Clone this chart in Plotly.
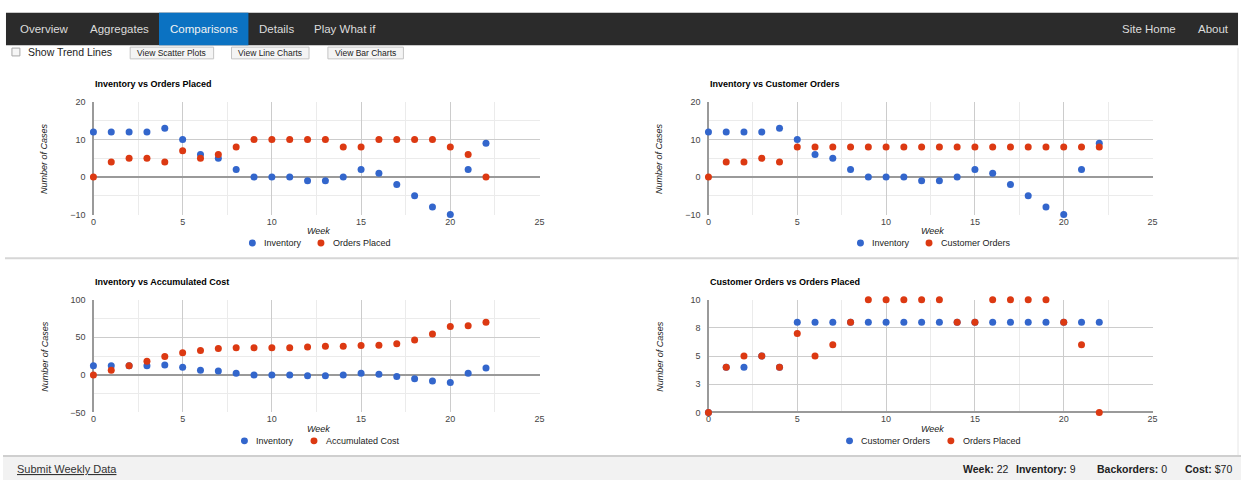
import plotly.graph_objects as go

# ---------------- data ----------------
weeks = list(range(23))
inventory = [12, 12, 12, 12, 13, 10, 6, 5, 2, 0, 0, 0, -1, -1, 0, 2, 1, -2, -5, -8, -10, 2, 9]
orders_placed = [0, 4, 5, 5, 4, 7, 5, 6, 8, 10, 10, 10, 10, 10, 8, 8, 10, 10, 10, 10, 8, 6, 0]
customer_orders = [0, 4, 4, 5, 4, 8, 8, 8, 8, 8, 8, 8, 8, 8, 8, 8, 8, 8, 8, 8, 8, 8, 8]
accumulated_cost = [0, 6, 12, 18, 24.5, 29.5, 32.5, 35, 36, 36, 36, 36, 37, 38, 38, 39, 39.5,
                    41.5, 46.5, 54.5, 64.5, 65.5, 70]

nav_left = ["Overview", "Aggregates", "Comparisons", "Details", "Play What if"]
nav_right = ["Site Home", "About"]
button_labels = ["View Scatter Plots", "View Line Charts", "View Bar Charts"]
chart_titles = ["Inventory vs Orders Placed", "Inventory vs Customer Orders",
                "Inventory vs Accumulated Cost", "Customer Orders vs Orders Placed"]
cd_ticks = [0, 2.5, 5, 7.5, 10]
cd_ticktext = ["0", "3", "5", "8", "10"]
status_labels = ["Week:", "Inventory:", "Backorders:", "Cost:"]
status_values = ["22", "9", "0", "$70"]

# ---------------- layout helpers ----------------
W, H = 1246, 485
FONT = "Arial, 'Liberation Sans', Helvetica, sans-serif"
BLUE = "#3366cc"
RED = "#dc3912"


def px(x):
    return x / W


def py(y):
    return 1 - y / H


panels = [
    dict(title=chart_titles[0], xd=(91, 540), yd=(99, 214),
         series=[("Inventory", inventory, BLUE), ("Orders Placed", orders_placed, RED)],
         yrange=(-10, 20), dtick=10, minor=5, tickvals=None, ticktext=None,
         ytitle_x=42, legend_x=(251, 320)),
    dict(title=chart_titles[1], xd=(710, 1157), yd=(99, 214),
         series=[("Inventory", inventory, BLUE), ("Customer Orders", customer_orders, RED)],
         yrange=(-10, 20), dtick=10, minor=5, tickvals=None, ticktext=None,
         ytitle_x=661, legend_x=(863, 932)),
    dict(title=chart_titles[2], xd=(91, 540), yd=(301, 416),
         series=[("Inventory", inventory, BLUE), ("Accumulated Cost", accumulated_cost, RED)],
         yrange=(-50, 100), dtick=50, minor=25, tickvals=None, ticktext=None,
         ytitle_x=42, legend_x=(243, 313)),
    dict(title=chart_titles[3], xd=(710, 1157), yd=(301, 416),
         series=[("Customer Orders", customer_orders, BLUE), ("Orders Placed", orders_placed, RED)],
         yrange=(0, 10), dtick=None, minor=None, tickvals=cd_ticks, ticktext=cd_ticktext,
         ytitle_x=661, legend_x=(852, 954)),
]

fig = go.Figure()
shapes = []
annotations = []


def text(x, y, s, size=9, color="#222", xanchor="left", yanchor="middle", angle=0):
    annotations.append(dict(x=px(x), y=py(y), xref="paper", yref="paper", text=s,
                            showarrow=False, xanchor=xanchor, yanchor=yanchor,
                            textangle=angle, font=dict(family=FONT, size=size, color=color)))


def rect(x0, y0, x1, y1, fill, line=None, lw=0):
    shapes.append(dict(type="rect", xref="paper", yref="paper", x0=px(x0), x1=px(x1),
                       y0=py(y1), y1=py(y0), fillcolor=fill,
                       line=dict(color=line or fill, width=lw), layer="below"))


def hline(x0, x1, y, color, w=1):
    shapes.append(dict(type="line", xref="paper", yref="paper", x0=px(x0), x1=px(x1),
                       y0=py(y), y1=py(y), line=dict(color=color, width=w)))


# ---------------- page chrome ----------------
rect(3, 8, 1243, 41, "#2b2b2b")
rect(157, 8, 247, 41, "#0b72c2")
nav_centers = [41.5, 117, 202, 275, 344]
for lab, cx in zip(nav_left, nav_centers):
    text(cx, 25, lab, size=11.5, color="#f2f2f2" if lab == "Comparisons" else "#dcdcdc",
         xanchor="center")
for lab, cx in zip(nav_right, [1153.5, 1218]):
    text(cx, 25, lab, size=11.5, color="#dcdcdc", xanchor="center")

# checkbox + buttons
rect(9, 44, 17, 52, "#f6f6f6", "#a8a8a8", 1)
text(23, 48.5, "Show Trend Lines", size=10.5, color="#222")
for lab, (bx0, bx1) in zip(button_labels, [(128, 212), (230, 308), (327, 403)]):
    rect(bx0, 43, bx1, 55, "#f4f4f4", "#c4c4c4", 1)
    text((bx0 + bx1) / 2, 49, lab, size=8.5, color="#222", xanchor="center")

# separators / border
hline(2, 1244, 258.5, "#d6d6d6", 2)
shapes.append(dict(type="line", xref="paper", yref="paper", x0=px(1243), x1=px(1243),
                   y0=py(460), y1=py(44), line=dict(color="#e6e6e6", width=1)))

# footer
rect(0, 460, 1246, 485, "#f2f2f2")
hline(0, 1246, 460.5, "#cfcfcf", 2)
text(12, 474, "<u>Submit Weekly Data</u>", size=11, color="#333")
for lab, val, sx in zip(status_labels, status_values, [964, 1018, 1099, 1188]):
    text(sx, 474, f"<b>{lab}</b> {val}", size=10.5, color="#222")

# ---------------- charts ----------------
layout_axes = {}
for i, p in enumerate(panels, start=1):
    xs = "" if i == 1 else str(i)
    for name, vals, col in p["series"]:
        fig.add_trace(go.Scatter(x=weeks, y=vals, mode="markers", name=name,
                                 marker=dict(color=col, size=7, line=dict(width=0)),
                                 cliponaxis=False, showlegend=False,
                                 xaxis=f"x{xs}", yaxis=f"y{xs}"))
    x0, x1 = p["xd"]
    y0, y1 = p["yd"]
    layout_axes[f"xaxis{xs}"] = dict(
        domain=[px(x0), px(x1)], anchor=f"y{xs}", range=[0, 25], tick0=0, dtick=5,
        showgrid=True, gridcolor="#cccccc", gridwidth=1,
        minor=dict(dtick=2.5, showgrid=True, gridcolor="#ebebeb", gridwidth=1),
        zeroline=True, zerolinecolor="#9a9a9a", zerolinewidth=1.5,
        showline=False, ticks="", tickfont=dict(family=FONT, size=9, color="#444"),
        fixedrange=True)
    yax = dict(
        domain=[py(y1), py(y0)], anchor=f"x{xs}", range=list(p["yrange"]),
        showgrid=True, gridcolor="#cccccc", gridwidth=1,
        zeroline=True, zerolinecolor="#9a9a9a", zerolinewidth=1.5,
        showline=False, ticks="", ticklabelstandoff=7,
        tickfont=dict(family=FONT, size=9, color="#444"), fixedrange=True)
    if p["tickvals"] is not None:
        yax.update(tickmode="array", tickvals=p["tickvals"], ticktext=p["ticktext"])
    else:
        yax.update(tick0=0, dtick=p["dtick"],
                   minor=dict(dtick=p["minor"], showgrid=True, gridcolor="#ebebeb", gridwidth=1))
    layout_axes[f"yaxis{xs}"] = yax

    # titles
    text(x0, y0 - 18, f"<b>{p['title']}</b>", size=9, color="#000")
    text(p["ytitle_x"], (y0 + y1) / 2, "<i>Number of Cases</i>", size=9, color="#222",
         xanchor="center", angle=-90)
    text((x0 + x1) / 2 + 2.5, y1 + 17, "<i>Week</i>", size=9, color="#222", xanchor="center")

    # legend
    for (name, vals, col), lx in zip(p["series"], p["legend_x"]):
        ly = y1 + 29
        shapes.append(dict(type="circle", xref="paper", yref="paper",
                           x0=px(lx - 3.5), x1=px(lx + 3.5), y0=py(ly + 3.5), y1=py(ly - 3.5),
                           fillcolor=col, line=dict(width=0)))
        text(lx + 10, ly, name, size=9, color="#222")

fig.update_layout(
    width=W, height=H, margin=dict(l=0, r=0, t=0, b=0),
    paper_bgcolor="white", plot_bgcolor="white",
    font=dict(family=FONT, size=9, color="#222"),
    showlegend=False, shapes=shapes, annotations=annotations,
    **layout_axes,
)

fig.write_html(
    "out.html",
    config={"displayModeBar": False},
    post_script="document.body.style.margin='0';document.body.style.padding='0';"
                "document.body.style.overflow='hidden';",
)
